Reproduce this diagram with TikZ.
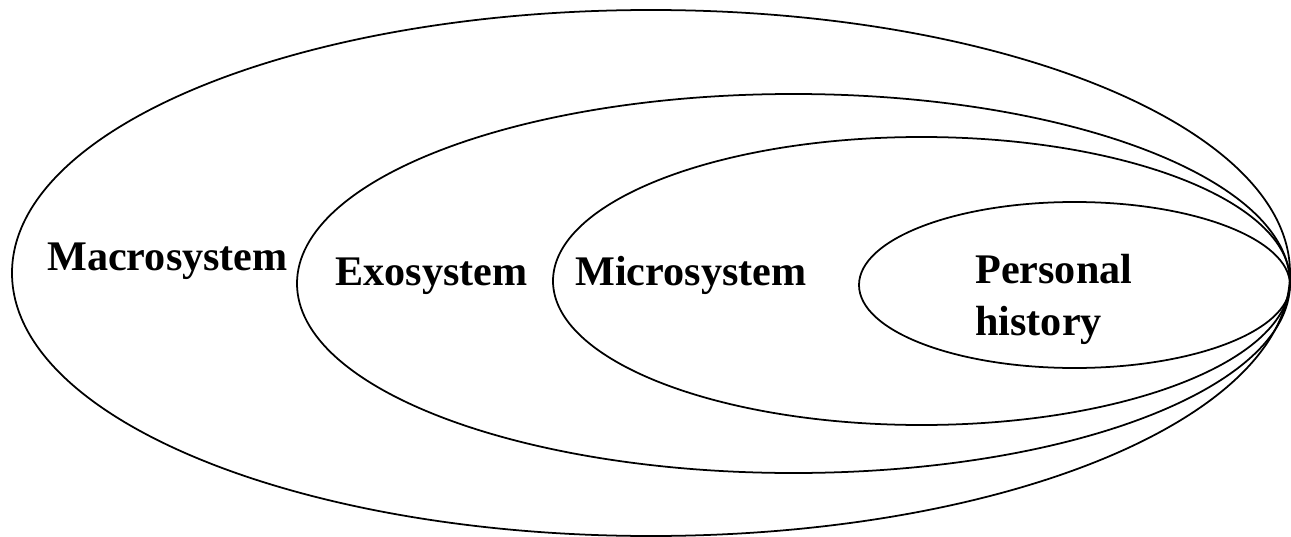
\documentclass[tikz,border=0pt]{standalone}
\usepackage{fontspec}
\setmainfont{Liberation Serif}
\begin{document}
\begin{tikzpicture}[
        x=0.02cm, y=-0.02cm,
        ring/.style={draw=black, line width=1pt},
        sys_label/.style={font=\fontsize{24}{29.5}\selectfont\bfseries, inner sep=0pt, anchor=base west}
    ]
    \useasboundingbox (0,0) rectangle (1291,537);

    % --- Nested systems (outer to inner) ---
    \draw[ring] (651,273) ellipse (639 and 263);
    \draw[ring] (793.5,283.5) ellipse (496.5 and 189.5);
    \draw[ring] (921.5,281) ellipse (368.5 and 144);
    \draw[ring] (1074.5,285) ellipse (215.5 and 83);

    % --- Labels ---
    \node[sys_label] (macro) at (47,270) {Macrosystem};
    \node[sys_label] (exo) at (335,285) {Exosystem};
    \node[sys_label] (micro) at (575,285) {Microsystem};
    % base = last line
    \node[sys_label, align=left] (personal) at (975,335) {Personal\\history};

\end{tikzpicture}
\end{document}
